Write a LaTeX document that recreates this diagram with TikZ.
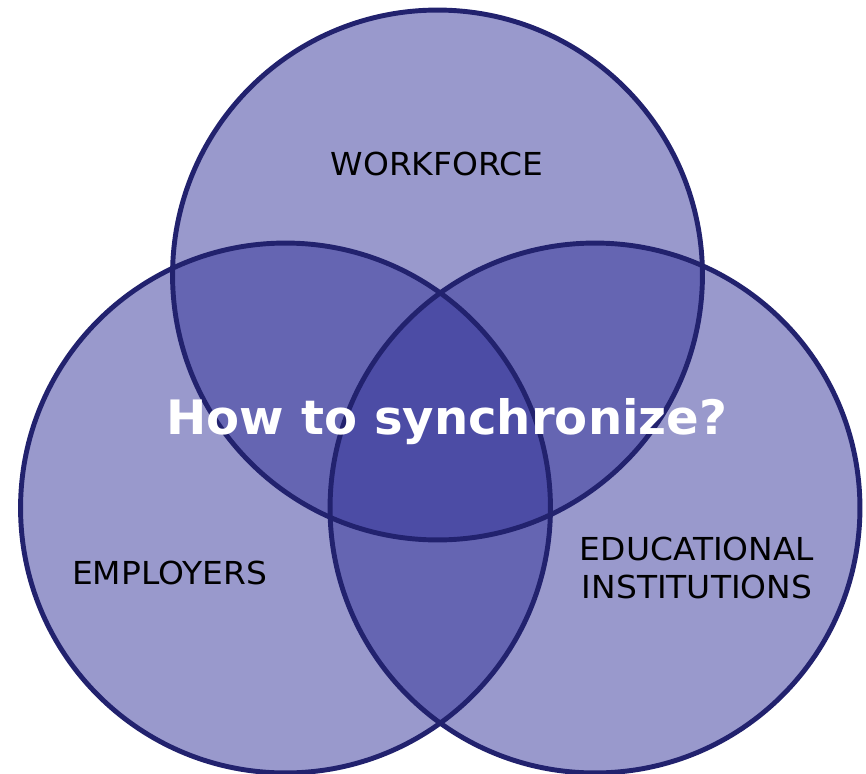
\documentclass[tikz,border=0pt]{standalone}
\usepackage{fontspec}
\setmainfont[FakeStretch=1.04]{DejaVu Sans}
\newfontfamily\titlefont[FakeStretch=1.015]{DejaVu Sans}
\usetikzlibrary{positioning}
\definecolor{vennfill}{RGB}{51,51,153}
\definecolor{vennrim}{RGB}{34,34,110}
\tikzset{
	disc/.style={circle,inner sep=0pt,minimum size=10.6cm,fill=vennfill,fill opacity=.5},
	rim/.style={circle,inner sep=0pt,minimum size=10.6cm,draw=vennrim,line width=2.8pt},
	lbl/.style={font=\fontsize{18}{22}\selectfont,align=center,text=black},
}
\begin{document}
\begin{tikzpicture}[x=0.02cm,y=-0.02cm]
	\useasboundingbox (0,0) rectangle (866,774);
	% the three sets
	\node (wf) at (437.5,275) [disc]{};
	\node (emp) at (285.5,508) [disc]{};
	\node (edu) at (595,508) [disc]{};
	\node (wfRim) at (wf.center) [rim]{};
	\node (empRim) at (emp.center) [rim]{};
	\node (eduRim) at (edu.center) [rim]{};
	% labels
	\node (wfText) at (437,164) [lbl]{WORKFORCE};
	\node (empText) at (169.5,573) [lbl]{EMPLOYERS};
	\node (eduText) at (697,568) [lbl]{EDUCATIONAL\\INSTITUTIONS};
	\node (ask) at (447,422) [font=\titlefont\fontsize{27}{30}\selectfont\bfseries,text=white]{How to synchronize?};
\end{tikzpicture}
\end{document}
